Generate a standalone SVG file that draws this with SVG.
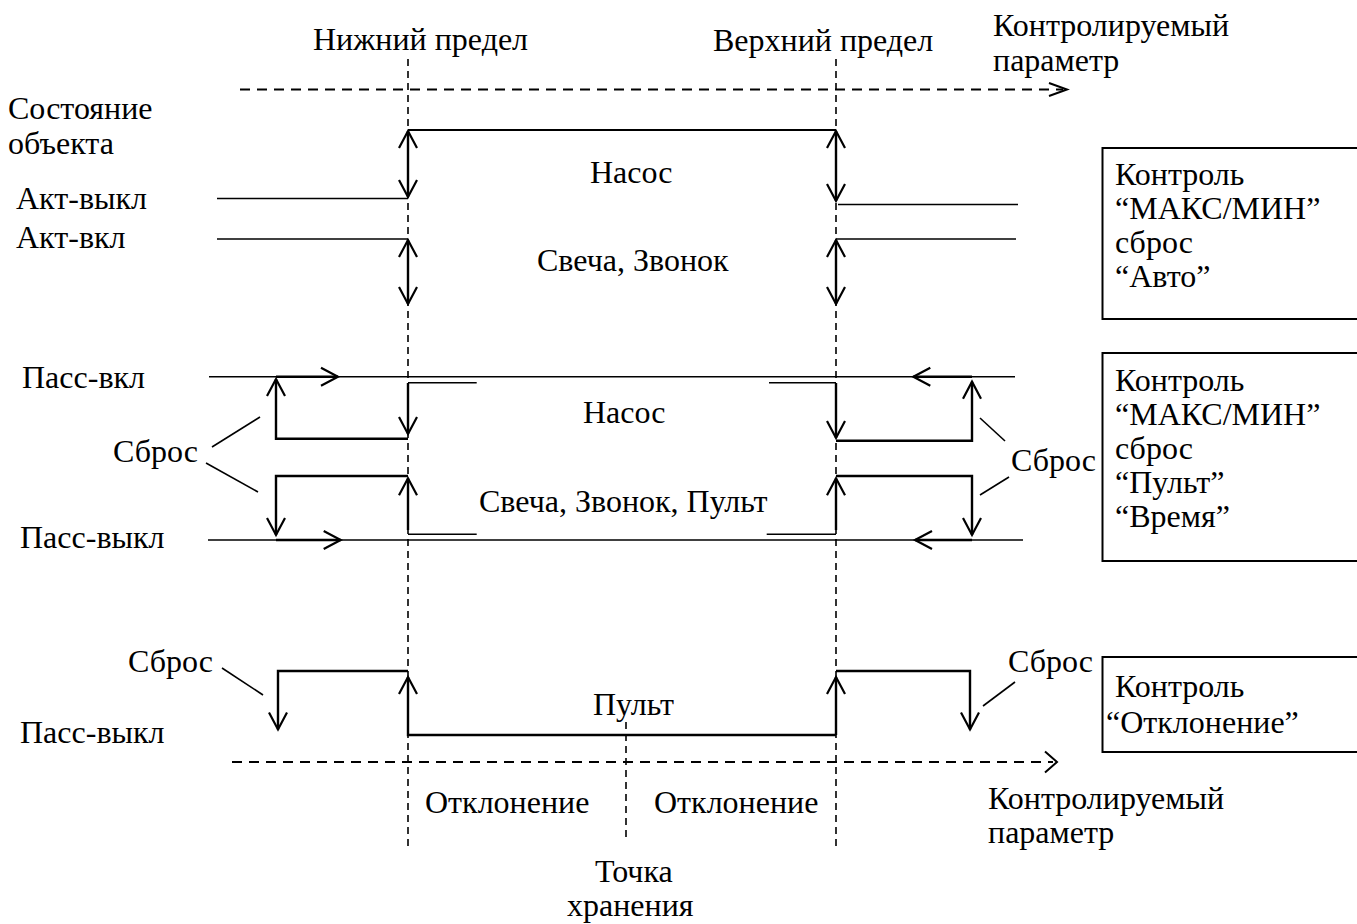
<svg xmlns="http://www.w3.org/2000/svg" width="1357" height="924" viewBox="0 0 1357 924">
<style>
text{font-family:"Liberation Serif","Times New Roman",serif;font-size:32px;fill:#000}
.ln{fill:none;stroke:#000;stroke-width:2}
.thin{fill:none;stroke:#000;stroke-width:1.6}
.arr{fill:none;stroke:#000;stroke-width:2.4;marker-end:url(#ah)}
.dbl{fill:none;stroke:#000;stroke-width:2.4;marker-start:url(#ah);marker-end:url(#ah)}
.vd{fill:none;stroke:#000;stroke-width:1.6;stroke-dasharray:7 5}
.hd{fill:none;stroke:#000;stroke-width:2;stroke-dasharray:10 7}
.box{fill:none;stroke:#000;stroke-width:2}
</style>
<defs>
<marker id="ah" viewBox="-20 -12 24 24" refX="0" refY="0" markerWidth="24" markerHeight="24" markerUnits="userSpaceOnUse" orient="auto-start-reverse" overflow="visible">
<path d="M-17,-9 L0,0 L-17,9" fill="none" stroke="#000" stroke-width="2.2"/>
</marker>
</defs>
<rect width="1357" height="924" fill="#fff"/>

<g id="connectors">
<path class="vd" d="M408 59 V848"/>
<path class="vd" d="M836 59 V848"/>
<path class="vd" d="M626 722 V840"/>
<path class="hd" d="M240 89.5 H1063"/>
<path class="ln" d="M1049 83 L1067 89.5 L1049 96"/>
<path class="hd" d="M232 762 H1053"/>
<path class="ln" d="M1045 751.5 L1057 762 L1045 772.5"/>

<path class="ln" d="M408 130 H836"/>
<path class="thin" d="M217 198.5 H408"/>
<path class="thin" d="M838 204.5 H1018"/>
<path class="thin" d="M217 239 H408"/>
<path class="thin" d="M836 239 H1016"/>
<path class="dbl" d="M408 131 V197"/>
<path class="dbl" d="M836 131 V201"/>
<path class="dbl" d="M408 240 V304"/>
<path class="dbl" d="M836 240 V304"/>

<path class="thin" d="M209 376.7 H1015"/>
<path class="thin" d="M208 540 H1023"/>
<path class="arr" d="M276 376.7 H338"/>
<path class="arr" d="M408 438.7 H276 V379"/>
<path class="thin" d="M476.7 382.7 H408"/>
<path class="arr" d="M408 383 V434"/>
<path class="arr" d="M408 476 H276 V535"/>
<path class="arr" d="M276 540 H340.7"/>
<path class="thin" d="M476.7 534.3 H408"/>
<path class="arr" d="M408 530 V478.3"/>

<path class="thin" d="M769 382.7 H836"/>
<path class="arr" d="M836 383 V438"/>
<path class="arr" d="M836 440.7 H972 V381.7"/>
<path class="arr" d="M972 376.7 H913.3"/>
<path class="arr" d="M836 476 H972 V535"/>
<path class="arr" d="M972 540 H915"/>
<path class="thin" d="M766.7 534.3 H836"/>
<path class="arr" d="M836 530 V478.3"/>

<path class="thin" d="M212 447 L260 417"/>
<path class="thin" d="M206 463 L258 492"/>
<path class="thin" d="M980 418 L1005 441"/>
<path class="thin" d="M980 495 L1009 477"/>

<path class="arr" d="M408 671 H278 V729.5"/>
<path class="arr" d="M836 735 H408 V677"/>
<path class="arr" d="M836 735 V677"/>
<path class="arr" d="M836 671 H970 V729.5"/>
<path class="thin" d="M222 668 L263 695"/>
<path class="thin" d="M983 706 L1015 682"/>
</g>

<g id="labels">
<text x="313" y="50">Нижний предел</text>
<text x="713" y="51">Верхний предел</text>
<text x="993" y="36">Контролируемый</text>
<text x="993" y="71">параметр</text>
<text x="8" y="119">Состояние</text>
<text x="8" y="154">объекта</text>
<text x="16" y="209">Акт-выкл</text>
<text x="16" y="248">Акт-вкл</text>
<text x="590" y="183">Насос</text>
<text x="537" y="271">Свеча, Звонок</text>
<text x="22" y="388">Пасс-вкл</text>
<text x="20" y="548">Пасс-выкл</text>
<text x="583" y="423">Насос</text>
<text x="479" y="512">Свеча, Звонок, Пульт</text>
<text x="113" y="462">Сброс</text>
<text x="1011" y="471">Сброс</text>
<text x="128" y="672">Сброс</text>
<text x="1008" y="672">Сброс</text>
<text x="593" y="715">Пульт</text>
<text x="20" y="743">Пасс-выкл</text>
<text x="425" y="813">Отклонение</text>
<text x="654" y="813">Отклонение</text>
<text x="988" y="809">Контролируемый</text>
<text x="988" y="843">параметр</text>
<text x="595" y="882">Точка</text>
<text x="567" y="916">хранения</text>
</g>

<g id="box-auto">
<rect class="box" x="1102.5" y="148" width="270" height="171"/>
<text x="1115" y="185">Контроль</text>
<text x="1115" y="219">“МАКС/МИН”</text>
<text x="1115" y="253">сброс</text>
<text x="1115" y="287">“Авто”</text>
</g>
<g id="box-pult">
<rect class="box" x="1102.5" y="353" width="270" height="208"/>
<text x="1115" y="391">Контроль</text>
<text x="1115" y="425">“МАКС/МИН”</text>
<text x="1115" y="459">сброс</text>
<text x="1115" y="493">“Пульт”</text>
<text x="1115" y="527">“Время”</text>
</g>
<g id="box-dev">
<rect class="box" x="1102.5" y="657" width="270" height="95"/>
<text x="1115" y="697">Контроль</text>
<text x="1106" y="733">“Отклонение”</text>
</g>
</svg>
